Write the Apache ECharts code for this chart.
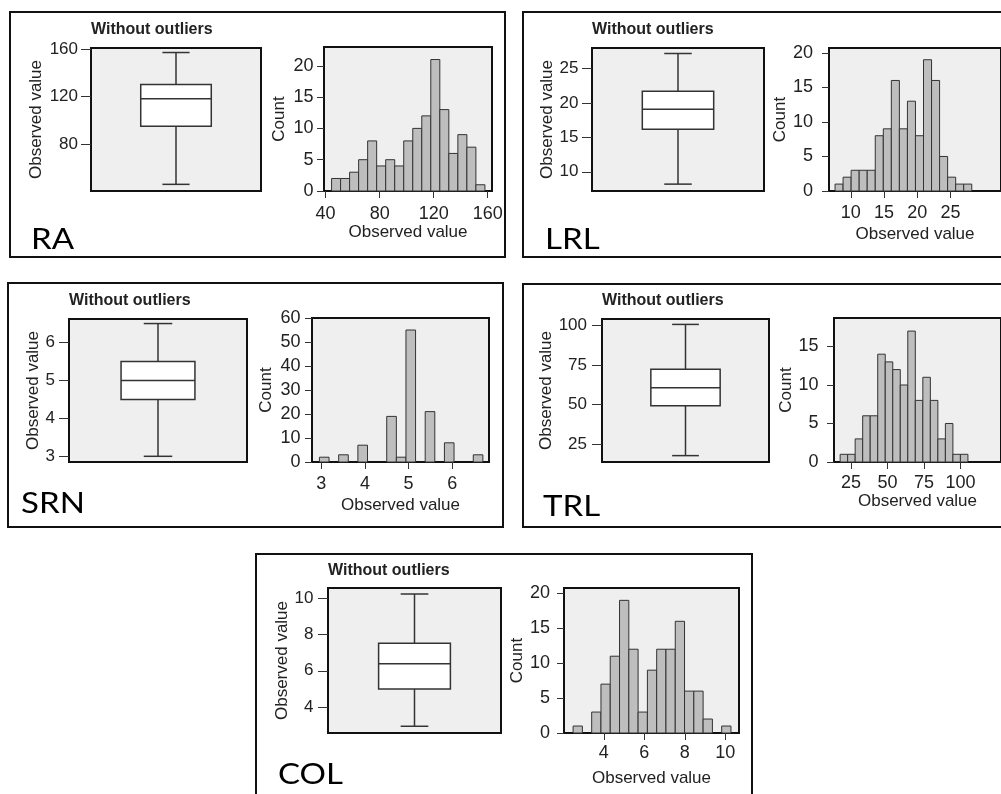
<!DOCTYPE html>
<html><head><meta charset="utf-8">
<script src="https://cdn.jsdelivr.net/npm/echarts@6/dist/echarts.min.js"></script>
<style>html,body{margin:0;padding:0;background:#fff}#c{width:1001px;height:794px}</style>
</head><body><div id="c"></div>
<script>
// ---------- DATA ----------
const panelNames = ['RA', 'LRL', 'SRN', 'TRL', 'COL'];
const boxTitle = 'Without outliers';
const boxAxisName = 'Observed value';
const histXName = 'Observed value';
const histYName = 'Count';

// box plots: [min, Q1, median, Q3, max]
const raBox  = [46, 95, 118, 130, 157];
const lrlBox = [8.2, 16.2, 19.1, 21.7, 27.2];
const srnBox = [3.0, 4.5, 5.0, 5.5, 6.5];
const trlBox = [18, 49.4, 60.6, 72.3, 100.4];
const colBox = [2.95, 5.0, 6.39, 7.52, 10.22];

// histograms: first bin edge, bin width, counts
const raBinStart = 44.4,  raBinWidth = 6.68;
const raCounts  = [2, 2, 3, 5, 8, 4, 5, 4, 8, 10, 12, 21, 13, 6, 9, 7, 1];
const lrlBinStart = 7.63, lrlBinWidth = 1.21;
const lrlCounts = [1, 2, 3, 3, 3, 8, 9, 16, 9, 13, 8, 19, 16, 5, 2, 1, 1];
const srnBinStart = 2.96, srnBinWidth = 0.22;
const srnCounts = [2, 0, 3, 0, 7, 0, 0, 19, 2, 55, 0, 21, 0, 8, 0, 0, 3];
const trlBinStart = 17.6, trlBinWidth = 5.15;
const trlCounts = [1, 1, 3, 6, 6, 14, 13, 12, 10, 17, 8, 11, 8, 3, 5, 1, 1];
const colBinStart = 2.48, colBinWidth = 0.459;
const colCounts = [1, 0, 3, 7, 11, 19, 12, 3, 9, 12, 12, 16, 6, 6, 2, 0, 1];

// tick labels
const raBoxTicks = [80, 120, 160];
const lrlBoxTicks = [10, 15, 20, 25];
const srnBoxTicks = [3, 4, 5, 6];
const trlBoxTicks = [25, 50, 75, 100];
const colBoxTicks = [4, 6, 8, 10];
const raHistX = [40, 80, 120, 160],  raHistY = [0, 5, 10, 15, 20];
const lrlHistX = [10, 15, 20, 25],   lrlHistY = [0, 5, 10, 15, 20];
const srnHistX = [3, 4, 5, 6],       srnHistY = [0, 10, 20, 30, 40, 50, 60];
const trlHistX = [25, 50, 75, 100],  trlHistY = [0, 5, 10, 15];
const colHistX = [4, 6, 8, 10],      colHistY = [0, 5, 10, 15, 20];

// ---------- LAYOUT ----------
const panels = [
  {name: panelNames[0], box: raBox, boxTicks: raBoxTicks, start: raBinStart, width: raBinWidth, counts: raCounts, hx: raHistX, hy: raHistY,
   frame: [10, 12, 495, 245], label: [31, 240], title: [91, 31],
   bGrid: [91, 48, 170, 143], bY: [40.4, 160.8], bGap: 46, bMargin: 13,
   hGrid: [324, 47, 168, 144], hXR: [38.8, 163.2], hYR: [0, 23], hyGap: 36.5, hxGap: 25.5, hxMargin: 14, hyMargin: 10.5},
  {name: panelNames[1], box: lrlBox, boxTicks: lrlBoxTicks, start: lrlBinStart, width: lrlBinWidth, counts: lrlCounts, hx: lrlHistX, hy: lrlHistY,
   frame: [523, 12, 520, 245], label: [545, 240], title: [592, 31],
   bGrid: [592, 48, 172, 143], bY: [7.2, 28.0], bGap: 35.5, bMargin: 13.5,
   hGrid: [829, 48, 200, 143], hXR: [6.72, 32.6], hYR: [0, 20.7], hyGap: 34.5, hxGap: 34.5, hxMargin: 13, hyMargin: 16},
  {name: panelNames[2], box: srnBox, boxTicks: srnBoxTicks, start: srnBinStart, width: srnBinWidth, counts: srnCounts, hx: srnHistX, hy: srnHistY,
   frame: [8, 283, 495, 244], label: [21, 504], title: [69, 302],
   bGrid: [69, 319, 178, 143], bY: [2.85, 6.62], bGap: 26.5, bMargin: 14,
   hGrid: [312, 318, 177, 144], hXR: [2.79, 6.84], hYR: [0, 60], hyGap: 37.5, hxGap: 35, hxMargin: 13.5, hyMargin: 11.5},
  {name: panelNames[3], box: trlBox, boxTicks: trlBoxTicks, start: trlBinStart, width: trlBinWidth, counts: trlCounts, hx: trlHistX, hy: trlHistY,
   frame: [523, 284, 520, 243], label: [543, 507], title: [602, 302],
   bGrid: [602, 319, 167, 143], bY: [14.0, 103.8], bGap: 47.5, bMargin: 15,
   hGrid: [834, 318, 200, 144], hXR: [13.4, 127.8], hYR: [0, 18.7], hyGap: 38, hxGap: 28.5, hxMargin: 12, hyMargin: 15.5},
  {name: panelNames[4], box: colBox, boxTicks: colBoxTicks, start: colBinStart, width: colBinWidth, counts: colCounts, hx: colHistX, hy: colHistY,
   frame: [256, 554, 496, 260], label: [278, 775], title: [328, 572],
   bGrid: [328, 588, 173, 145], bY: [2.58, 10.55], bGap: 37, bMargin: 14.5,
   hGrid: [564, 588, 175, 145], hXR: [2.03, 10.68], hYR: [0, 20.77], hyGap: 36.5, hxGap: 36.5, hxMargin: 11.5, hyMargin: 14}
];

const FONT = '"Liberation Sans", Arial, sans-serif';
const INK = '#222';
const PLOT_BG = '#efefef';

function histRender(params, api) {
  const x0 = api.value(0), x1 = api.value(1), c = api.value(2);
  if (!c) return null;
  const p0 = api.coord([x0, 0]);
  const p1 = api.coord([x1, c]);
  return {
    type: 'rect',
    shape: {x: p0[0], y: p1[1], width: p1[0] - p0[0], height: p0[1] - p1[1]},
    style: {fill: '#bebebe', stroke: '#333', lineWidth: 1}
  };
}

function boxRender(params, api) {
  const mn = api.value(1), q1 = api.value(2), md = api.value(3), q3 = api.value(4), mx = api.value(5);
  const xc = api.coord([1, mn])[0];
  const xl = api.coord([0.585, mn])[0], xr = api.coord([1.415, mn])[0];
  const cl = api.coord([0.84, mn])[0], cr = api.coord([1.16, mn])[0];
  const yMin = api.coord([1, mn])[1], yQ1 = api.coord([1, q1])[1], yMd = api.coord([1, md])[1];
  const yQ3 = api.coord([1, q3])[1], yMax = api.coord([1, mx])[1];
  const ls = {stroke: '#333', lineWidth: 1.5};
  return {
    type: 'group',
    children: [
      {type: 'line', shape: {x1: xc, y1: yMax, x2: xc, y2: yQ3}, style: ls},
      {type: 'line', shape: {x1: xc, y1: yQ1, x2: xc, y2: yMin}, style: ls},
      {type: 'line', shape: {x1: cl, y1: yMax, x2: cr, y2: yMax}, style: ls},
      {type: 'line', shape: {x1: cl, y1: yMin, x2: cr, y2: yMin}, style: ls},
      {type: 'rect', shape: {x: xl, y: yQ3, width: xr - xl, height: yQ1 - yQ3}, style: {fill: '#fff', stroke: '#333', lineWidth: 1.5}},
      {type: 'line', shape: {x1: xl, y1: yMd, x2: xr, y2: yMd}, style: ls}
    ]
  };
}

const grid = [], xAxis = [], yAxis = [], series = [], title = [], graphic = [];

panels.forEach(function (p) {
  // frame + label
  graphic.push({type: 'rect', shape: {x: p.frame[0], y: p.frame[1], width: p.frame[2], height: p.frame[3]},
    style: {fill: 'none', stroke: '#111', lineWidth: 2}, z: 100});
  graphic.push({type: 'text', x: p.label[0], y: p.label[1], scaleX: 1.14,
    style: {text: p.name, font: '29px Lato, "Open Sans", sans-serif', fill: '#000', verticalAlign: 'middle', align: 'left'}, z: 100});
  title.push({text: boxTitle, left: p.title[0], top: p.title[1] - 9, padding: 0,
    textStyle: {fontSize: 16, fontWeight: 'bold', color: INK, fontFamily: FONT}});

  // box plot grid
  const bi = grid.length;
  grid.push({left: p.bGrid[0], top: p.bGrid[1], width: p.bGrid[2], height: p.bGrid[3],
    show: true, backgroundColor: PLOT_BG, borderColor: '#111', borderWidth: 2});
  xAxis.push({gridIndex: bi, type: 'value', min: 0, max: 2, show: false});
  yAxis.push({gridIndex: bi, type: 'value', min: p.bY[0], max: p.bY[1],
    name: boxAxisName, nameLocation: 'middle', nameGap: p.bGap,
    nameTextStyle: {fontSize: 17, color: INK, fontFamily: FONT},
    axisLine: {show: false}, splitLine: {show: false},
    axisTick: {show: true, length: 10, customValues: p.boxTicks, lineStyle: {color: '#333', width: 1}},
    axisLabel: {customValues: p.boxTicks, margin: p.bMargin, fontSize: 17, color: INK, fontFamily: FONT}});
  series.push({type: 'custom', xAxisIndex: bi, yAxisIndex: bi, renderItem: boxRender,
    encode: {x: 0, y: [1, 2, 3, 4, 5]}, data: [[1].concat(p.box)], silent: true, clip: false});

  // histogram grid
  const hi = grid.length;
  grid.push({left: p.hGrid[0], top: p.hGrid[1], width: p.hGrid[2], height: p.hGrid[3],
    show: true, backgroundColor: PLOT_BG, borderColor: '#111', borderWidth: 2});
  xAxis.push({gridIndex: hi, type: 'value', min: p.hXR[0], max: p.hXR[1],
    name: histXName, nameLocation: 'middle', nameGap: p.hxGap,
    nameTextStyle: {fontSize: 17, color: INK, fontFamily: FONT},
    axisLine: {show: false}, splitLine: {show: false},
    axisTick: {show: true, length: 7, customValues: p.hx, lineStyle: {color: '#333', width: 1}},
    axisLabel: {customValues: p.hx, margin: p.hxMargin, fontSize: 18, color: INK, fontFamily: FONT}});
  yAxis.push({gridIndex: hi, type: 'value', min: p.hYR[0], max: p.hYR[1],
    name: histYName, nameLocation: 'middle', nameGap: p.hyGap,
    nameTextStyle: {fontSize: 17, color: INK, fontFamily: FONT},
    axisLine: {show: false}, splitLine: {show: false},
    axisTick: {show: true, length: 7, customValues: p.hy, lineStyle: {color: '#333', width: 1}},
    axisLabel: {customValues: p.hy, margin: p.hyMargin, fontSize: 18, color: INK, fontFamily: FONT}});
  const hdata = p.counts.map(function (c, i) {
    return [p.start + i * p.width, p.start + (i + 1) * p.width, c];
  });
  series.push({type: 'custom', xAxisIndex: hi, yAxisIndex: hi, renderItem: histRender,
    encode: {x: [0, 1], y: 2}, data: hdata, silent: true});
});

const chart = echarts.init(document.getElementById('c'), null, {renderer: 'canvas'});
chart.setOption({
  animation: false,
  backgroundColor: '#fff',
  textStyle: {fontFamily: FONT},
  title: title, grid: grid, xAxis: xAxis, yAxis: yAxis, series: series, graphic: graphic
});
</script>
</body></html>
